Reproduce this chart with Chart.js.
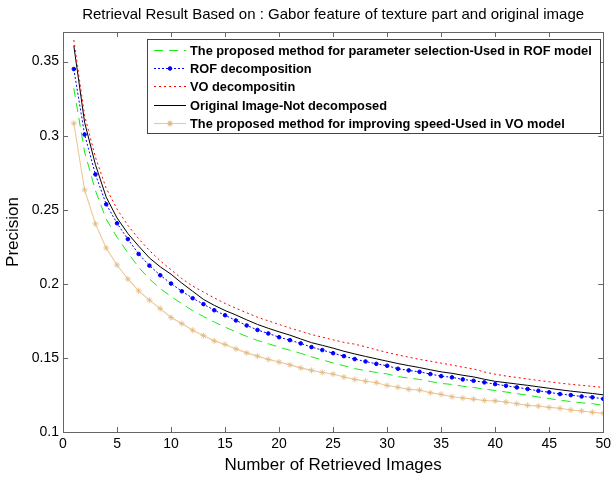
<!DOCTYPE html>
<html>
<head>
<meta charset="utf-8">
<script src="https://cdn.jsdelivr.net/npm/chart.js@4.4.1/dist/chart.umd.min.js"></script>
<style>
html,body{margin:0;padding:0;background:#fff;}
</style>
</head>
<body>
<canvas id="chart" width="615" height="477"></canvas>
<script>
// x : number of retrieved images
const images = [1,2,3,4,5,6,7,8,9,10,11,12,13,14,15,16,17,18,19,20,21,22,23,24,25,
  26,27,28,29,30,31,32,33,34,35,36,37,38,39,40,41,42,43,44,45,46,47,48,49,50];

const paramSelection = [0.332,0.289,0.263,0.2437,0.2314,0.221,0.2112,0.2033,0.1968,0.1915,
  0.1866,0.1819,0.178,0.1742,0.1708,0.1676,0.1645,0.1618,0.1596,0.1573,
  0.1552,0.1531,0.1507,0.1487,0.1466,0.1447,0.1428,0.1414,0.1402,0.1392,
  0.1374,0.1364,0.1355,0.1341,0.1328,0.1321,0.1309,0.13,0.129,0.128,
  0.127,0.1259,0.1248,0.1236,0.1226,0.1214,0.1206,0.1197,0.1191,0.118];

const rofDecomp = [0.345,0.3008,0.2739,0.2537,0.2409,0.2302,0.2202,0.2123,0.2058,0.2002,
  0.195,0.1903,0.1863,0.1822,0.1788,0.1753,0.1719,0.1689,0.1665,0.164,
  0.162,0.1598,0.1573,0.1553,0.1532,0.1512,0.1492,0.1476,0.146,0.1447,
  0.1427,0.1416,0.1406,0.1391,0.1377,0.1369,0.1355,0.1346,0.1335,0.1323,
  0.1312,0.1301,0.129,0.1278,0.1268,0.1256,0.1249,0.124,0.1234,0.1224];

const voDecomp = [0.3646,0.3135,0.2855,0.2645,0.2505,0.2395,0.2305,0.2225,0.2155,0.2095,
  0.2035,0.1985,0.1945,0.1905,0.1868,0.1835,0.1805,0.1775,0.175,0.1726,
  0.1702,0.168,0.1658,0.164,0.1622,0.1605,0.1593,0.1575,0.1555,0.1537,
  0.152,0.1505,0.149,0.1478,0.1465,0.1452,0.1438,0.1425,0.1405,0.139,
  0.1378,0.1368,0.1358,0.1348,0.1339,0.133,0.1322,0.1315,0.1308,0.1301];

const original = [0.3608,0.309,0.2805,0.2585,0.2445,0.234,0.2255,0.2175,0.2115,0.2065,
  0.2005,0.195,0.1895,0.1855,0.182,0.179,0.1757,0.1726,0.17,0.1676,
  0.1654,0.1628,0.1603,0.1585,0.1566,0.1545,0.1527,0.151,0.1494,0.1478,
  0.1462,0.1448,0.1435,0.142,0.1406,0.1396,0.1383,0.1372,0.1356,0.1342,
  0.1333,0.1324,0.1315,0.1305,0.1295,0.1285,0.1276,0.1268,0.126,0.1251];

const improvingSpeed = [0.3084,0.2635,0.2405,0.2242,0.2127,0.2033,0.1953,0.189,0.1833,0.1773,
  0.1732,0.1687,0.1651,0.1615,0.1591,0.1561,0.1534,0.1512,0.149,0.1472,
  0.1453,0.1433,0.1416,0.1402,0.1391,0.1371,0.1355,0.1343,0.1333,0.1314,
  0.1302,0.1288,0.1283,0.1265,0.1254,0.1238,0.1229,0.1222,0.1213,0.121,
  0.1202,0.1191,0.118,0.1175,0.1166,0.116,0.1148,0.1142,0.1133,0.1126];

const xTicks = [0,5,10,15,20,25,30,35,40,45,50];
const yTicks = [0.1,0.15,0.2,0.25,0.3,0.35];

const seriesNames = [
  "The proposed method for parameter selection-Used in ROF model",
  "ROF decomposition",
  "VO decompositin",
  "Original Image-Not decomposed",
  "The proposed method for improving speed-Used in VO model"
];

const pts = arr => images.map((x, i) => ({x: x, y: arr[i]}));
const FONT = "'Liberation Sans', Arial, sans-serif";

// box around plot with inward ticks (matlab style)
const boxTicks = {
  id: 'boxTicks',
  afterDatasetsDraw(chart) {
    const {ctx, chartArea: a, scales} = chart;
    ctx.save();
    ctx.strokeStyle = '#666';
    ctx.lineWidth = 1;
    ctx.strokeRect(Math.round(a.left) + 0.5, Math.round(a.top) + 0.5,
      Math.round(a.right - a.left), Math.round(a.bottom - a.top));
    ctx.beginPath();
    xTicks.forEach(v => {
      const px = Math.round(scales.x.getPixelForValue(v)) + 0.5;
      ctx.moveTo(px, a.bottom); ctx.lineTo(px, a.bottom - 5);
      ctx.moveTo(px, a.top); ctx.lineTo(px, a.top + 5);
    });
    yTicks.forEach(v => {
      const py = Math.round(scales.y.getPixelForValue(v)) + 0.5;
      ctx.moveTo(a.left, py); ctx.lineTo(a.left + 5, py);
      ctx.moveTo(a.right, py); ctx.lineTo(a.right - 5, py);
    });
    ctx.stroke();
    ctx.restore();
  }
};

// legend box inside the axes, upper right
const innerLegend = {
  id: 'innerLegend',
  afterDraw(chart) {
    const ctx = chart.ctx;
    const bx = 147, by = 39, bw = 453, bh = 94;
    ctx.save();
    ctx.fillStyle = '#fff';
    ctx.fillRect(bx, by, bw, bh);
    ctx.strokeStyle = '#444';
    ctx.lineWidth = 1;
    ctx.strokeRect(bx + 0.5, by + 0.5, bw, bh);
    ctx.font = 'bold 12.8px ' + FONT;
    ctx.textBaseline = 'middle';
    chart.data.datasets.forEach((ds, i) => {
      const y = Math.round(by + 11 + i * 18.2) + 0.5;
      ctx.strokeStyle = ds.borderColor;
      ctx.lineWidth = ds.borderWidth;
      ctx.setLineDash(ds.borderDash || []);
      ctx.beginPath();
      ctx.moveTo(154, y); ctx.lineTo(186, y);
      ctx.stroke();
      ctx.setLineDash([]);
      if (ds.pointRadius > 0) {
        ctx.fillStyle = ds.pointBackgroundColor;
        ctx.strokeStyle = ds.pointBorderColor;
        Chart.helpers.drawPoint(ctx, {
          pointStyle: ds.pointStyle, radius: ds.pointRadius, borderWidth: ds.pointBorderWidth
        }, 170, y);
      }
      ctx.fillStyle = '#000';
      ctx.fillText(ds.label, 190, y + 1);
    });
    ctx.restore();
  }
};

new Chart(document.getElementById('chart'), {
  type: 'line',
  data: {
    datasets: [{
      label: seriesNames[0],
      data: pts(paramSelection),
      borderColor: 'rgb(20,235,20)',
      borderWidth: 1,
      borderDash: [9, 6],
      pointRadius: 0
    }, {
      label: seriesNames[1],
      data: pts(rofDecomp),
      borderColor: '#0000ff',
      borderWidth: 1,
      borderDash: [2, 2],
      pointRadius: 1.8,
      pointBorderWidth: 1,
      pointStyle: 'circle',
      pointBackgroundColor: '#0000ff',
      pointBorderColor: '#0000ff'
    }, {
      label: seriesNames[2],
      data: pts(voDecomp),
      borderColor: '#ff0000',
      borderWidth: 1,
      borderDash: [2, 3],
      pointRadius: 0
    }, {
      label: seriesNames[3],
      data: pts(original),
      borderColor: '#000000',
      borderWidth: 1,
      pointRadius: 0
    }, {
      label: seriesNames[4],
      data: pts(improvingSpeed),
      borderColor: 'rgb(236,200,150)',
      borderWidth: 1.1,
      pointRadius: 3,
      pointBorderWidth: 0.8,
      pointStyle: 'star',
      pointBackgroundColor: 'rgba(0,0,0,0)',
      pointBorderColor: 'rgb(225,185,130)'
    }]
  },
  options: {
    responsive: false,
    animation: false,
    devicePixelRatio: 1,
    layout: {padding: {left: 0, right: 10, top: 0, bottom: 0}},
    plugins: {
      legend: {display: false},
      tooltip: {enabled: false},
      title: {
        display: true,
        fullSize: false,
        text: 'Retrieval Result Based on : Gabor feature of texture part and original image',
        color: '#000',
        font: {family: FONT, size: 15, weight: 'normal'},
        padding: {top: 6, bottom: 8}
      }
    },
    scales: {
      x: {
        type: 'linear',
        min: 0, max: 50,
        grid: {display: false, drawTicks: false},
        border: {display: false},
        afterBuildTicks: s => { s.ticks = xTicks.map(v => ({value: v})); },
        afterFit: s => { s.height = 45; },
        ticks: {
          autoSkip: false, maxRotation: 0, padding: 4, color: '#000',
          font: {family: FONT, size: 14}
        },
        title: {
          display: true, text: 'Number of Retrieved Images', color: '#000',
          font: {family: FONT, size: 17}, padding: {top: 0, bottom: 1}
        }
      },
      y: {
        type: 'linear',
        min: 0.1, max: 0.37,
        grid: {display: false, drawTicks: false},
        border: {display: false},
        afterBuildTicks: s => { s.ticks = yTicks.map(v => ({value: v})); },
        afterFit: s => { s.width = 63; },
        ticks: {
          autoSkip: false, padding: 4, color: '#000',
          font: {family: FONT, size: 14},
          callback: v => String(+v.toFixed(2))
        },
        title: {
          display: true, text: 'Precision', color: '#000',
          font: {family: FONT, size: 17}, padding: {top: 3, bottom: 0}
        }
      }
    }
  },
  plugins: [boxTicks, innerLegend]
});
</script>
</body>
</html>
